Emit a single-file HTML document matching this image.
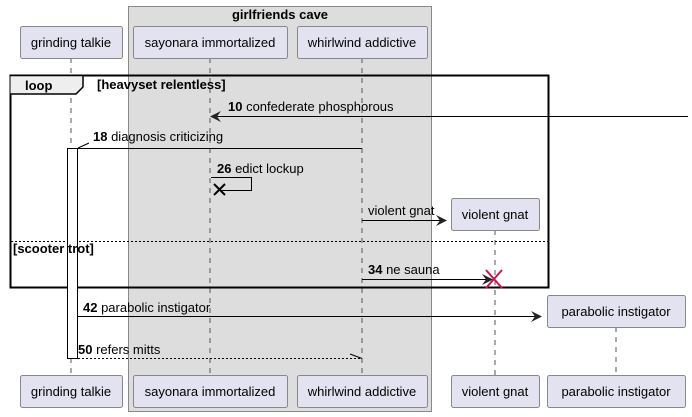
<!DOCTYPE html>
<html><head><style>body{margin:0;background:#fff}svg{display:block}text{font-family:"Liberation Sans",sans-serif;font-size:13px;fill:#000}</style></head><body>
<svg width="692" height="417" viewBox="0 0 692 417">
<rect x="128.5" y="6.5" width="303" height="405" fill="#ddd" stroke="#888"/>
<text x="280" y="19" text-anchor="middle" font-weight="bold">girlfriends cave</text>
<g stroke="#555" stroke-dasharray="5,5">
<line x1="71" y1="58" x2="71" y2="375"/><line x1="210" y1="58" x2="210" y2="375"/><line x1="362" y1="58" x2="362" y2="375"/><line x1="495" y1="230" x2="495" y2="375"/><line x1="616" y1="327" x2="616" y2="375"/>
</g>
<g fill="#e2e2f0" stroke="#888">
<rect x="20.5" y="26.5" width="102" height="32" rx="2"/><rect x="133.5" y="26.5" width="154" height="32" rx="2"/><rect x="297.5" y="26.5" width="130" height="32" rx="2"/>
<rect x="451.5" y="198.5" width="88" height="32" rx="2"/><rect x="547.5" y="295.5" width="138" height="32" rx="2"/>
<rect x="20.5" y="375.5" width="102" height="32" rx="2"/><rect x="133.5" y="375.5" width="154" height="32" rx="2"/><rect x="297.5" y="375.5" width="130" height="32" rx="2"/><rect x="451.5" y="375.5" width="88" height="32" rx="2"/><rect x="547.5" y="375.5" width="138" height="32" rx="2"/>
</g>
<g text-anchor="middle">
<text x="71" y="47">grinding talkie</text><text x="210" y="47">sayonara immortalized</text><text x="362" y="47">whirlwind addictive</text><text x="495" y="219">violent gnat</text><text x="616" y="316">parabolic instigator</text>
<text x="71" y="396">grinding talkie</text><text x="210" y="396">sayonara immortalized</text><text x="362" y="396">whirlwind addictive</text><text x="495" y="396">violent gnat</text><text x="616" y="396">parabolic instigator</text>
</g>
<rect x="10.5" y="75.5" width="538" height="212" fill="none" stroke="#000" stroke-width="2"/>
<path d="M10.5 75.5 H83 V87 L76 94 H10.5" fill="#eee" stroke="#000" stroke-width="1.5"/>
<text x="25" y="90" font-weight="bold">loop</text>
<text x="97" y="89" font-weight="bold" font-size="11">[heavyset relentless]</text>
<line x1="11" y1="241.5" x2="548" y2="241.5" stroke="#000" stroke-dasharray="2,2"/>
<rect x="67.5" y="148.5" width="10" height="210" fill="#fff" stroke="#000"/>
<text x="13" y="253" font-weight="bold" font-size="11">[scooter trot]</text>
<g stroke="#000" fill="none">
<line x1="212" y1="116.5" x2="688" y2="116.5"/>
<line x1="78" y1="148.5" x2="362" y2="148.5"/><line x1="78" y1="148" x2="89" y2="143"/>
<path d="M211 177.5 H251.5 V190.5 H219"/><path d="M214 184 L225 195 M225 184 L214 195" stroke-width="2"/>
<line x1="362" y1="220.5" x2="446" y2="220.5"/>
<line x1="362" y1="279.5" x2="492" y2="279.5"/>
<line x1="78" y1="316.5" x2="540" y2="316.5"/>
<line x1="78" y1="358.5" x2="362" y2="358.5" stroke-dasharray="2,2"/><line x1="350" y1="354" x2="362" y2="358.5"/>
</g>
<g fill="#222">
<path d="M210 116.5 L221 111 L217 116.5 L221 122Z"/>
<path d="M447 220.5 L436 215 L440 220.5 L436 226Z"/>
<path d="M493 279.5 L482 274 L486 279.5 L482 285Z"/>
<path d="M542 316.5 L531 311 L535 316.5 L531 322Z"/>
</g>
<path d="M486 270 L502 288 M502 270 L486 288" stroke="#c0184a" stroke-width="2"/>
<text x="228" y="111"><tspan font-weight="bold">10</tspan> confederate phosphorous</text>
<text x="93" y="141"><tspan font-weight="bold">18</tspan> diagnosis criticizing</text>
<text x="217" y="173"><tspan font-weight="bold">26</tspan> edict lockup</text>
<text x="368" y="215" font-size="12">violent gnat</text>
<text x="368" y="274"><tspan font-weight="bold">34</tspan> ne sauna</text>
<text x="83" y="312"><tspan font-weight="bold">42</tspan> parabolic instigator</text>
<text x="78" y="354"><tspan font-weight="bold">50</tspan> refers mitts</text>
</svg>
</body></html>
